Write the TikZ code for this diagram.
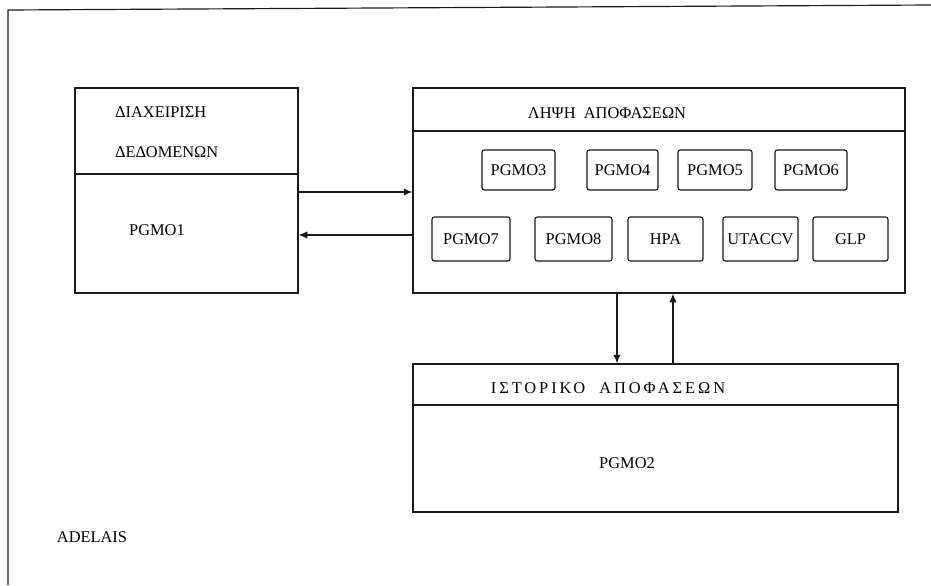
\documentclass[tikz,border=0pt]{standalone}
\usepackage{fontspec}
\setmainfont{Liberation Serif}
\usetikzlibrary{arrows.meta,fit}

\begin{document}
\begin{tikzpicture}[
  x=0.03cm, y=-0.03cm,
  font=\fontsize{14}{16}\selectfont,
  frame/.style={draw=black!90, line width=1pt},
  mainbox/.style={draw=black!90, line width=1pt, inner sep=0pt},
  pgm/.style={draw=black!90, line width=1pt, rounded corners=2pt, inner sep=0pt},
  divider/.style={draw=black!90, line width=0.9pt},
  flow/.style={draw=black!90, line width=1pt, -{Latex[length=2.6mm,width=2.2mm]}},
  spaced/.style={font=\fontsize{14}{16}\selectfont\addfontfeature{LetterSpace=18}}
]
\useasboundingbox (0,0) rectangle (931,585);
\draw[frame] (931,5) -- (8,10) -- (8,585);

\node[mainbox, fit={(75,88) (298,293)}] (datamgmt) {};
\node[mainbox, fit={(413,88) (905,293)}] (decision) {};
\node[mainbox, fit={(413,364) (898,512)}] (history) {};

\draw[divider] (datamgmt.west |- 0,174) -- (datamgmt.east |- 0,174);
\draw[divider] (decision.west |- 0,131) -- (decision.east |- 0,131);
\draw[divider] (history.west |- 0,405) -- (history.east |- 0,405);

\node[anchor=west] (datatitle) at (111,112) {ΔΙΑΧΕΙΡΙΣΗ};
\node[anchor=west] (datatitleb) at (111,152) {ΔΕΔΟΜΕΝΩΝ};
\node (pgmo1) at (157,230) {PGMO1};
\node (decisiontitle) at (607,113) {ΛΗΨΗ\ \ ΑΠΟΦΑΣΕΩΝ};
\node[spaced] (historytitle) at (608,388) {ΙΣΤΟΡΙΚΟ\ \ ΑΠΟΦΑΣΕΩΝ};
\node (pgmo2) at (627,463) {PGMO2};

\node[pgm, fit={(482,150) (555,190)}, label=center:PGMO3] (pgmo3) {};
\node[pgm, fit={(587,150) (658,190)}, label=center:PGMO4] (pgmo4) {};
\node[pgm, fit={(678,150) (752,190)}, label=center:PGMO5] (pgmo5) {};
\node[pgm, fit={(775,150) (847,190)}, label=center:PGMO6] (pgmo6) {};
\node[pgm, fit={(432,217) (510,261)}, label=center:PGMO7] (pgmo7) {};
\node[pgm, fit={(535,217) (612,261)}, label=center:PGMO8] (pgmo8) {};
\node[pgm, fit={(628,217) (703,261)}, label=center:HPA] (hpa) {};
\node[pgm, fit={(723,217) (798,261)}, label=center:UTACCV] (utaccv) {};
\node[pgm, fit={(813,217) (888,261)}, label=center:GLP] (glp) {};

\draw[flow] (datamgmt.east |- 0,192) -- (decision.west |- 0,192);
\draw[flow] (decision.west |- 0,235) -- (datamgmt.east |- 0,235);
\draw[flow] (decision.south -| 617,0) -- (history.north -| 617,0);
\draw[flow] (history.north -| 673,0) -- (decision.south -| 673,0);

\node (adelais) at (92,537) {ADELAIS};
\end{tikzpicture}
\end{document}
